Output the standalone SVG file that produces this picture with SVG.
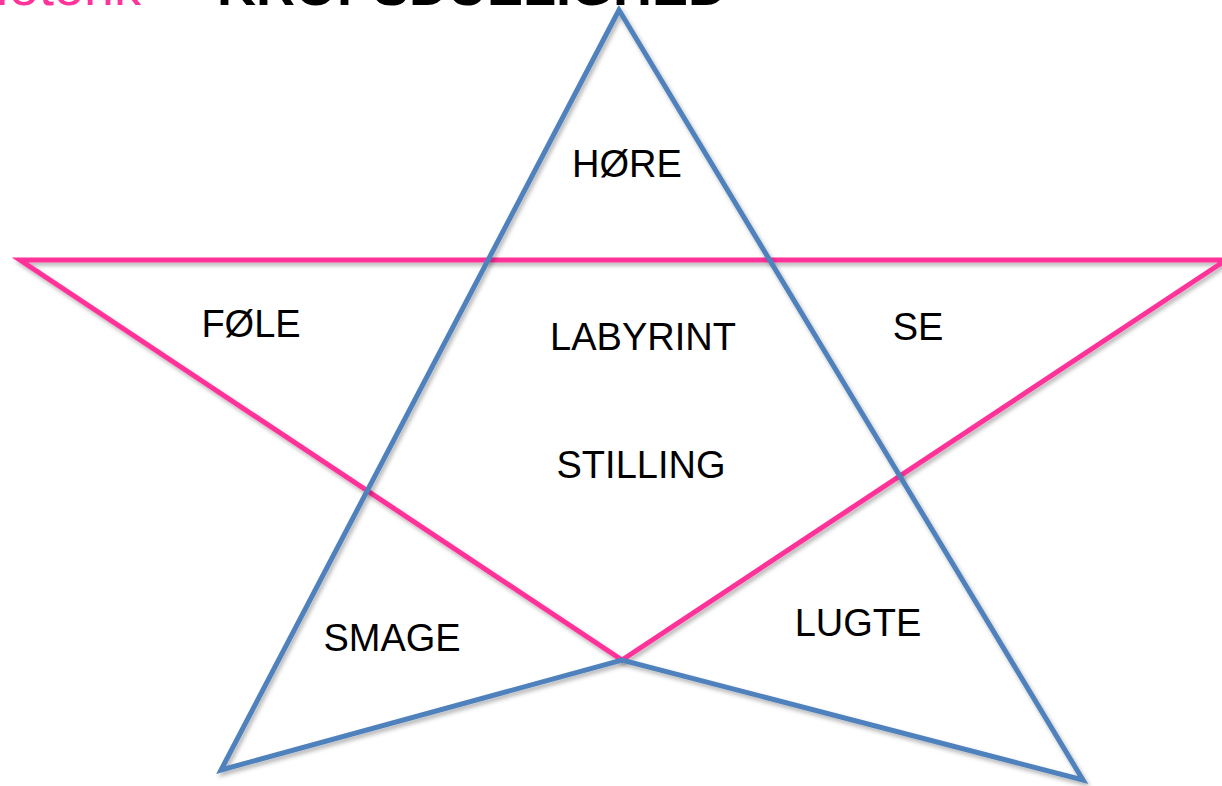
<svg xmlns="http://www.w3.org/2000/svg" width="1222" height="786" viewBox="0 0 1222 786">
<defs>
<style>
.lbl{font-family:"Liberation Sans",Arial,sans-serif;font-size:38px;fill:#000;text-anchor:middle}
.ttl{font-family:"Liberation Sans",Arial,sans-serif;font-size:54px}
.blue{fill:none;stroke:#4f81bd;stroke-width:5;stroke-linejoin:miter}
.pink{fill:none;stroke:#ff3399;stroke-width:5;stroke-linejoin:miter}
</style>
<filter id="sh" x="-5%" y="-5%" width="110%" height="110%">
<feDropShadow dx="2" dy="3" stdDeviation="2" flood-color="#000" flood-opacity="0.3"/>
</filter>
</defs>
<rect width="1222" height="786" fill="#fff"/>
<g id="title">
<text class="ttl" x="141" y="5" fill="#ff3399" text-anchor="end">Motorik</text>
<text class="ttl" x="217" y="5" fill="#000" font-weight="bold">KROPSDUELIGHED</text>
</g>
<g id="connectors">
<path class="pink" filter="url(#sh)" d="M20,260 L1226,260 L622,660 Z M1226,260 L1222,263"/>
<path class="blue" filter="url(#sh)" d="M619,10 L221,770 L622,660 L1083,780 Z"/>
</g>
<g id="n-hore"><text class="lbl" x="627" y="177">HØRE</text></g>
<g id="n-fole"><text class="lbl" x="251" y="337">FØLE</text></g>
<g id="n-labyrint"><text class="lbl" x="643" y="350">LABYRINT</text></g>
<g id="n-se"><text class="lbl" x="918" y="340">SE</text></g>
<g id="n-stilling"><text class="lbl" x="641" y="478">STILLING</text></g>
<g id="n-smage"><text class="lbl" x="392" y="651">SMAGE</text></g>
<g id="n-lugte"><text class="lbl" x="858" y="636">LUGTE</text></g>
</svg>
